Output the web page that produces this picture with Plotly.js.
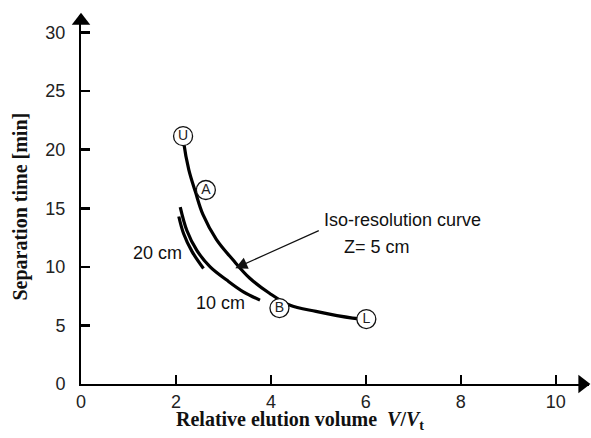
<!DOCTYPE html>
<html>
<head>
<meta charset="utf-8">
<script src="https://cdn.plot.ly/plotly-3.0.1.min.js"></script>
<style>html,body{margin:0;padding:0;background:#fff;}#chart{width:591px;height:438px;}</style>
</head>
<body>
<div id="chart"></div>
<script>
// Iso-resolution curve, Z = 5 cm
const curve5X = [2.15, 2.16, 2.27, 2.41, 2.57, 2.85, 3.20, 3.55, 3.97, 4.39, 4.95, 5.72, 6.01];
const curve5Y = [21.16, 20.7, 18.3, 16.4, 14.45, 12.35, 10.6, 9.05, 7.75, 6.75, 6.2, 5.63, 5.54];
// Z = 10 cm
const curve10X = [2.09, 2.23, 2.44, 2.72, 3.07, 3.42, 3.77];
const curve10Y = [15.1, 13.1, 11.4, 10.0, 8.87, 7.87, 7.16];
// Z = 20 cm
const curve20X = [2.06, 2.16, 2.34, 2.58];
const curve20Y = [14.3, 12.85, 11.3, 9.86];
// Labelled points
const pointLabels = ["U", "A", "B", "L"];
const pointX = [2.15, 2.63, 4.18, 6.01];
const pointY = [21.16, 16.56, 6.48, 5.54];
// Ticks
const xTicks = [0, 2, 4, 6, 8, 10];
const yTicks = [0, 5, 10, 15, 20, 25, 30];

const lineStyle = {color: '#000', width: 3.2, shape: 'spline', smoothing: 1};
const traces = [
  {x: curve5X, y: curve5Y, mode: 'lines', line: lineStyle, hoverinfo: 'skip'},
  {x: curve10X, y: curve10Y, mode: 'lines', line: lineStyle, hoverinfo: 'skip'},
  {x: curve20X, y: curve20Y, mode: 'lines', line: lineStyle, hoverinfo: 'skip'},
  {x: pointX, y: pointY, mode: 'markers+text', text: pointLabels, textposition: 'middle center',
   textfont: {family: 'Liberation Sans, Arial, sans-serif', size: 14, color: '#222'},
   marker: {symbol: 'circle', size: 19, color: '#fff', line: {color: '#111', width: 1.3}},
   cliponaxis: false, hoverinfo: 'skip'},
  // axis arrowheads
  {x: [0], y: [31.0], mode: 'markers', marker: {symbol: 'triangle-up', size: 16, color: '#000', line: {width: 0}}, cliponaxis: false, hoverinfo: 'skip'},
  {x: [10.56], y: [0], mode: 'markers', marker: {symbol: 'triangle-right', size: 16, color: '#000', line: {width: 0}}, cliponaxis: false, hoverinfo: 'skip'}
];

const tickFont = {family: 'Liberation Sans, Arial, sans-serif', size: 18, color: '#222'};
const annFont = {family: 'Liberation Sans, Arial, sans-serif', size: 18, color: '#111'};
const titleFont = {family: 'Liberation Serif, Times New Roman, serif', size: 20, color: '#111'};

const layout = {
  width: 591, height: 438,
  margin: {l: 81, r: 2, t: 15, b: 54},
  paper_bgcolor: '#fff', plot_bgcolor: '#fff',
  showlegend: false,
  xaxis: {range: [0, 10.7], tickvals: xTicks, ticktext: xTicks.map(String), ticks: 'inside', ticklen: 9, tickwidth: 2.5,
          tickcolor: '#000', showline: true, linecolor: '#000', linewidth: 2, showgrid: false, zeroline: false,
          tickfont: tickFont, ticklabelstandoff: 0, fixedrange: true},
  yaxis: {range: [0, 31.5], tickvals: yTicks, ticktext: yTicks.map(String), ticks: 'inside', ticklen: 9, tickwidth: 2.5,
          tickcolor: '#000', showline: true, linecolor: '#000', linewidth: 2, showgrid: false, zeroline: false,
          tickfont: tickFont, ticklabelstandoff: 10, fixedrange: true},
  annotations: [
    {x: 1.61, y: 11.2, xref: 'x', yref: 'y', text: '20 cm', showarrow: false, font: annFont, xanchor: 'center', yanchor: 'middle'},
    {x: 2.93, y: 6.93, xref: 'x', yref: 'y', text: '10 cm', showarrow: false, font: annFont, xanchor: 'center', yanchor: 'middle'},
    {x: 6.78, y: 14.0, xref: 'x', yref: 'y', text: 'Iso-resolution curve', showarrow: false, font: annFont, xanchor: 'center', yanchor: 'middle'},
    {x: 6.24, y: 11.73, xref: 'x', yref: 'y', text: 'Z= 5 cm', showarrow: false, font: annFont, xanchor: 'center', yanchor: 'middle'},
    {x: 3.25, y: 9.89, xref: 'x', yref: 'y', ax: 5.04, ay: 13.15, axref: 'x', ayref: 'y', text: '', showarrow: true,
     arrowhead: 2, arrowsize: 2, arrowwidth: 1.2, arrowcolor: '#111'},
    {x: 0.431, y: -0.099, xref: 'paper', yref: 'paper', showarrow: false, font: titleFont, xanchor: 'center', yanchor: 'middle',
     text: '<b>Relative elution volume&nbsp;&nbsp;<i>V</i>/<i>V</i><sub>t</sub></b>'},
    {x: -0.12, y: 0.481, xref: 'paper', yref: 'paper', showarrow: false, textangle: -90, font: titleFont, xanchor: 'center', yanchor: 'middle',
     text: '<b>Separation time [min]</b>'}
  ]
};

Plotly.newPlot('chart', traces, layout, {displayModeBar: false, staticPlot: true});
</script>
</body>
</html>
